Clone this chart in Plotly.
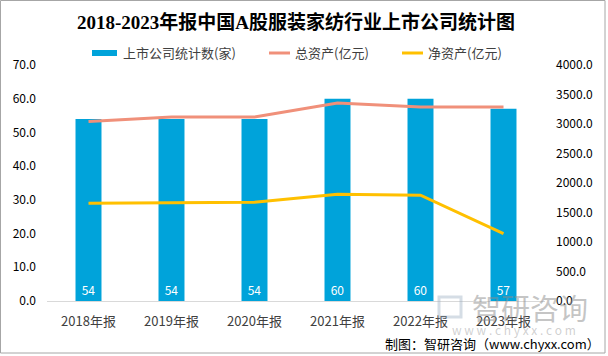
import plotly.graph_objects as go

categories = ["2018年报", "2019年报", "2020年报", "2021年报", "2022年报", "2023年报"]
company_counts = [54, 54, 54, 60, 60, 57]
total_assets = [3043, 3117, 3120, 3355, 3287, 3287]
net_assets = [1658, 1668, 1675, 1811, 1794, 1142]
left_ticks = [0, 10, 20, 30, 40, 50, 60, 70]
right_ticks = [0, 500, 1000, 1500, 2000, 2500, 3000, 3500, 4000]
series_names = ["上市公司统计数(家)", "总资产(亿元)", "净资产(亿元)"]
series_colors = ["#00A3DA", "#F0907A", "#FFC000"]

W, H = 608, 356
L, R, T, B = 47, 63, 65, 55
PW, PH = W - L - R, H - T - B

def px(x):
    return (x - L) / PW

def py(y):
    return (H - B - y) / PH

FONT = "Microsoft YaHei, Noto Sans CJK SC, sans-serif"

fig = go.Figure()
fig.add_trace(go.Bar(
    x=categories, y=company_counts, name=series_names[0],
    marker=dict(color=series_colors[0], line=dict(width=0)),
    width=0.313,
    text=[str(v) for v in company_counts], textposition="inside",
    insidetextanchor="start", textangle=0,
    textfont=dict(color="white", size=12, family=FONT),
    yaxis="y",
))
fig.add_trace(go.Scatter(
    x=categories, y=total_assets, name=series_names[1], mode="lines",
    line=dict(color=series_colors[1], width=3), yaxis="y2",
))
fig.add_trace(go.Scatter(
    x=categories, y=net_assets, name=series_names[2], mode="lines",
    line=dict(color=series_colors[2], width=3), yaxis="y2",
))

fig.update_layout(
    width=W, height=H,
    margin=dict(l=L, r=R, t=T, b=B, autoexpand=False),
    paper_bgcolor="white", plot_bgcolor="white",
    font=dict(family=FONT, size=12, color="#404040"),
    title=dict(
        text="<b>2018-2023年报中国A股服装家纺行业上市公司统计图</b>",
        x=0.5, xref="paper", xanchor="center",
        y=1 - 22 / H, yref="container", yanchor="middle",
        font=dict(family="Liberation Serif, Noto Sans CJK SC, serif", size=19, color="#000000"),
    ),
    showlegend=False,
    xaxis=dict(
        showgrid=False, showline=True, linecolor="#D9D9D9", linewidth=1,
        ticks="", tickfont=dict(size=13, color="#404040"),
        ticklabelstandoff=8,
    ),
    yaxis=dict(
        range=[0, 70], tickvals=left_ticks, tickformat=".1f",
        showgrid=False, zeroline=False, showline=False,
        tickfont=dict(size=12, color="#000000"),
        ticklabelstandoff=10,
    ),
    yaxis2=dict(
        range=[0, 4000], tickvals=right_ticks, tickformat=".1f",
        overlaying="y", side="right",
        showgrid=False, zeroline=False, showline=False,
        tickfont=dict(size=12, color="#000000"),
        ticklabelstandoff=10,
    ),
)

# manual legend (swatch geometry in pixels)
legend_y = 53
swatches = [(92, 117, 6), (269, 290, 3), (402, 423, 3)]
text_x = [121, 293, 426]
for (x0, x1, th), tx, name, col in zip(swatches, text_x, series_names, series_colors):
    fig.add_shape(type="rect", xref="paper", yref="paper",
                  x0=px(x0), x1=px(x1), y0=py(legend_y + th / 2), y1=py(legend_y - th / 2),
                  line=dict(width=0), fillcolor=col)
    fig.add_annotation(text=name, xref="paper", yref="paper",
                       x=px(tx), y=py(legend_y), xanchor="left", yanchor="middle",
                       showarrow=False, font=dict(size=13, color="#404040", family=FONT))

# outer border
fig.add_shape(type="rect", xref="paper", yref="paper",
              x0=px(0.5), x1=px(605), y0=py(353), y1=py(0.5),
              line=dict(color="#A6A6A6", width=1), fillcolor="rgba(0,0,0,0)", layer="below")

# watermark
fig.add_annotation(text="智研咨询", xref="paper", yref="paper",
                   x=px(530), y=py(307), xanchor="center", yanchor="middle",
                   showarrow=False, font=dict(size=29, color="rgba(140,140,140,0.5)", family=FONT))
fig.add_annotation(text="w w w . c h y x x . c o m", xref="paper", yref="paper",
                   x=px(514), y=py(329), xanchor="center", yanchor="middle",
                   showarrow=False, font=dict(size=12, color="rgba(150,150,150,0.45)", family=FONT))
fig.add_shape(type="rect", xref="paper", yref="paper",
              x0=px(439), x1=px(461), y0=py(317), y1=py(297),
              line=dict(color="rgba(150,170,190,0.4)", width=3), fillcolor="rgba(0,0,0,0)")

# source note
fig.add_annotation(text="制图：智研咨询（www.chyxx.com）", xref="paper", yref="paper",
                   x=px(602), y=py(343), xanchor="right", yanchor="middle",
                   showarrow=False, font=dict(size=13, color="#000000", family=FONT))

fig.write_html(
    "out.html",
    config={"displayModeBar": False},
    post_script="document.body.style.margin='0';document.body.style.padding='0';",
)
